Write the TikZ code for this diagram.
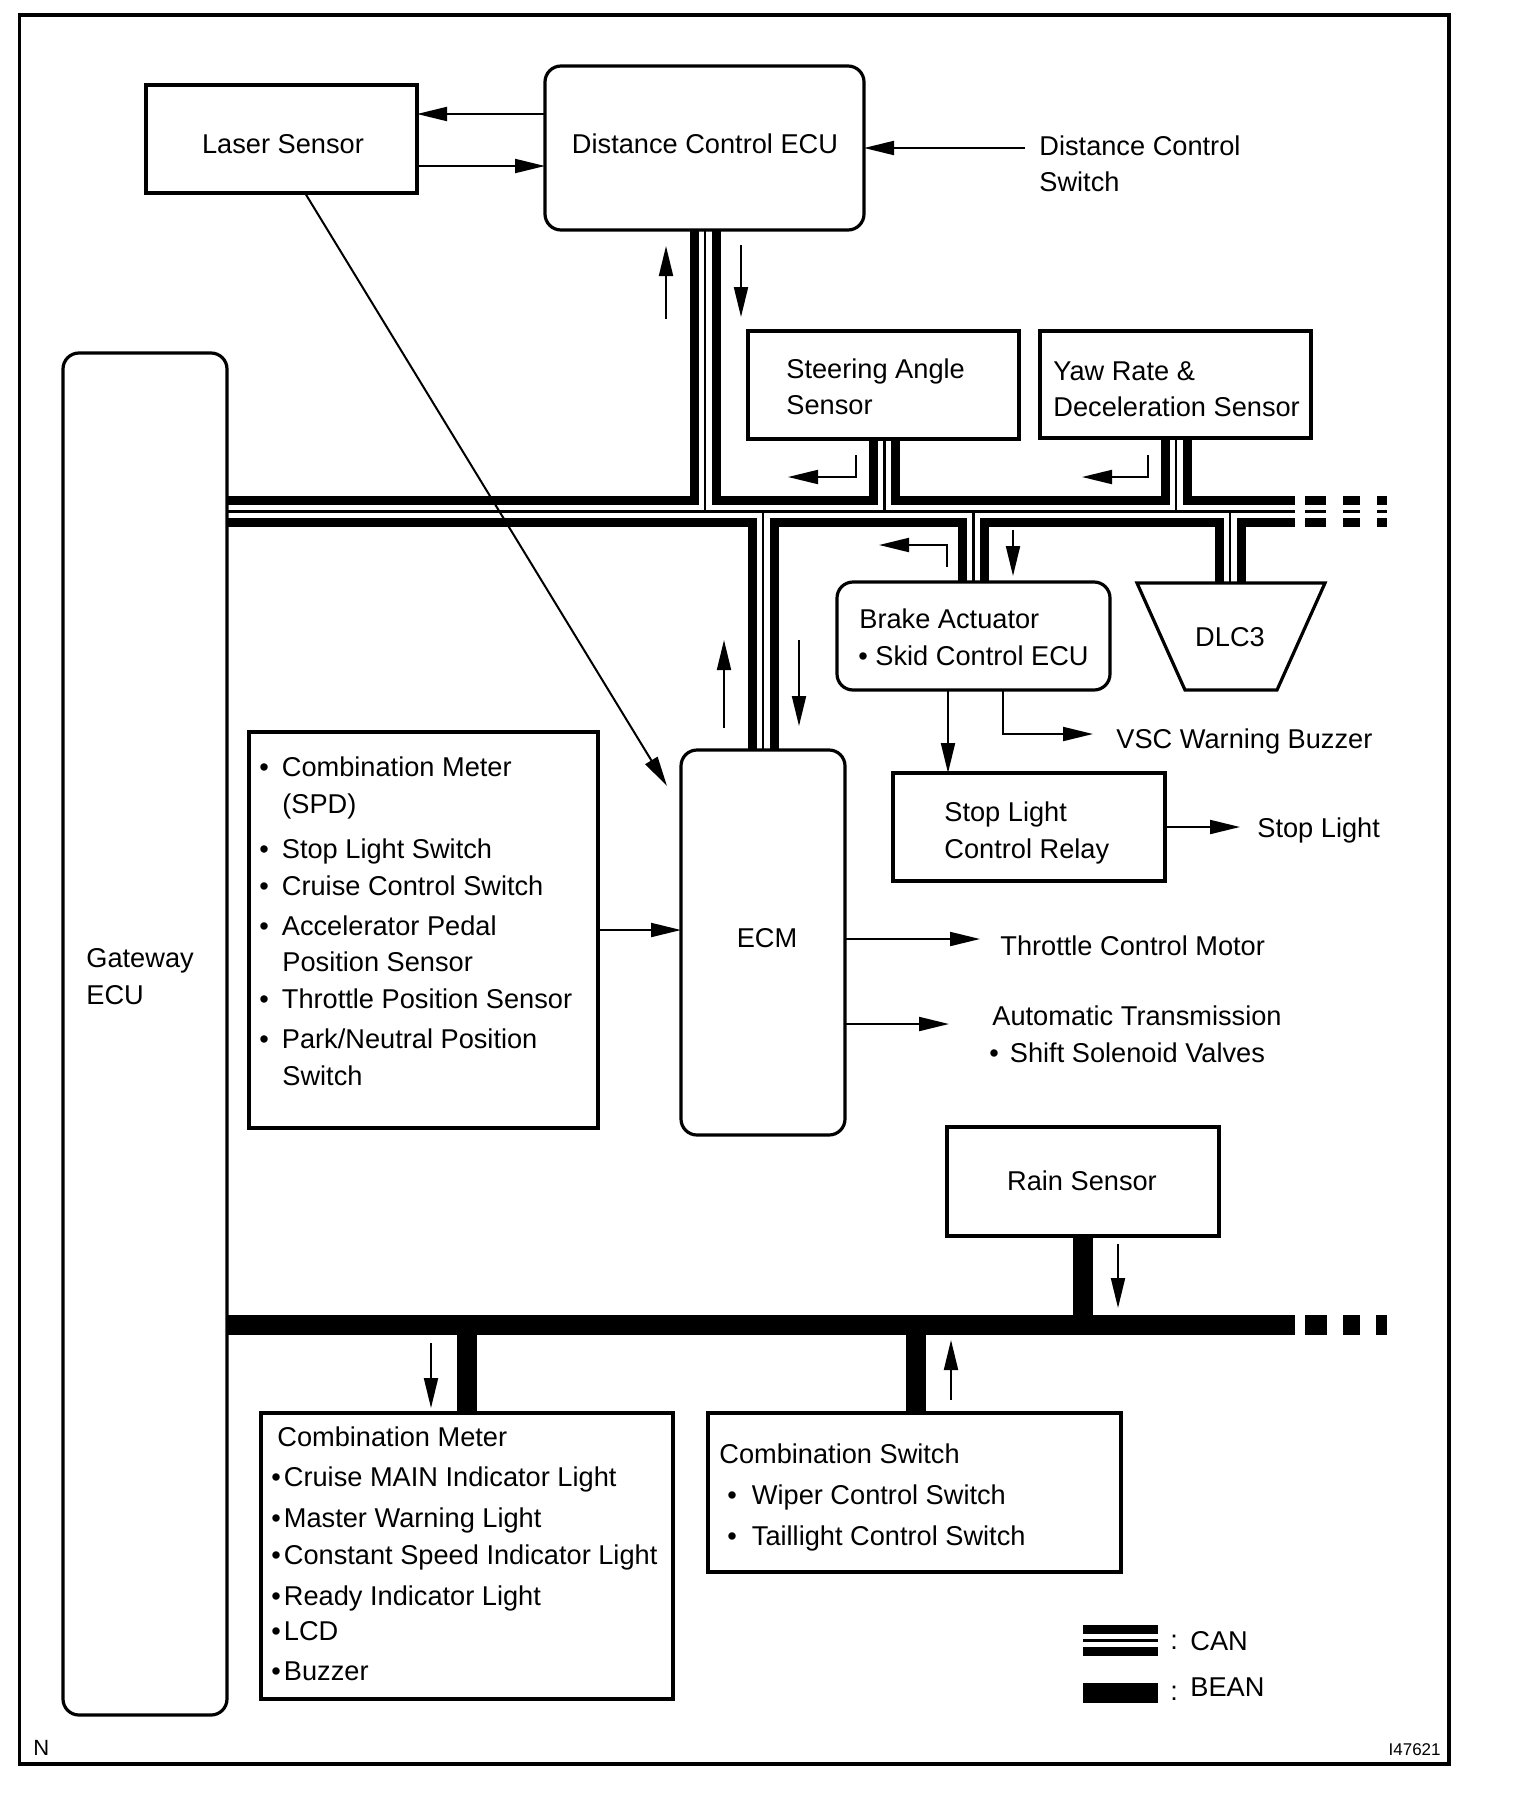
\documentclass[tikz,border=0pt]{standalone}
\usepackage{fontspec}
\setmainfont{Liberation Sans}
\usetikzlibrary{arrows.meta,fit,calc}
\pgfdeclarelayer{buslayer}
\pgfsetlayers{buslayer,main}
\begin{document}
\begin{tikzpicture}[x=0.5pt,y=-0.5pt,
  font=\fontsize{13.6}{16.5}\selectfont,
  box/.style={draw, line width=1.6pt, inner sep=0pt, outer sep=0pt},
  rbox/.style={box, rounded corners=8pt},
  txt/.style={anchor=base west, inner sep=0pt},
  ctxt/.style={anchor=base, inner sep=0pt},
  sig/.style={line width=1pt, -{Triangle[length=15pt,width=7pt]}},
  canA/.style={line width=15.5pt, black},
  canB/.style={line width=6.5pt, white},
  canC/.style={line width=1.4pt, black},
  bean/.style={line width=10pt, black},
]
% background / bounding box
\begin{pgfonlayer}{buslayer}
\fill[white] (0,0) rectangle (1520,1804);
\end{pgfonlayer}
\useasboundingbox (0,0) rectangle (1520,1804);
\node[box, fit={(19.6,15) (1449,1764)}] (frame) {};

% ---------- boxes ----------
\node[box, fit={(146,85) (417,193)}] (laser) {};
\node[rbox, fit={(545,66) (864,230)}] (dce) {};
\node[box, fit={(748,331) (1019,439)}] (sas) {};
\node[box, fit={(1040,331) (1311,438)}] (yaw) {};
\node[rbox, fit={(63,353) (227,1715)}] (gw) {};
\node[rbox, fit={(837,582) (1110,690)}] (brk) {};
\node[box, fit={(893,773) (1165,881)}] (slr) {};
\node[rbox, fit={(681,750) (845,1135)}] (ecm) {};
\node[box, fit={(249,732) (598,1128)}] (inp) {};
\node[box, fit={(947,1127) (1219,1236)}] (rain) {};
\node[box, fit={(261,1413) (673,1699)}] (cmeter) {};
\node[box, fit={(708,1413) (1121,1572)}] (cswitch) {};
\coordinate (dlctop) at (1230,583);
\draw[line width=1.6pt] (1137,583) -- (1325,583) -- (1277,690) -- (1185,690) -- cycle;

% ---------- CAN bus (outer lines, gap, centre line) ----------
\def\canpaths{
  (gw.east |- 0,511.5) -- (1295,511.5)
  (1305,511.5) -- (1326,511.5)
  (1343,511.5) -- (1360,511.5)
  (1377,511.5) -- (1387,511.5)
  (dce.south -| 705,0) -- (705,511.5)
  (sas.south -| 884.5,0) -- (884.5,511.5)
  (yaw.south -| 1176,0) -- (1176,511.5)
  (763,511.5) -- (ecm.north -| 763,0)
  (973.5,511.5) -- (brk.north -| 973.5,0)
  (1230,511.5) -- (dlctop)
}
\begin{pgfonlayer}{buslayer}
\draw[canA] \canpaths;
\draw[canB] \canpaths;
\draw[canC] \canpaths;
% ---------- BEAN bus ----------
\draw[bean] (gw.east |- 0,1325) -- (1295,1325)
  (1305,1325) -- (1327,1325)
  (1343,1325) -- (1360,1325)
  (1376,1325) -- (1387,1325)
  (rain.south -| 1083,0) -- (1083,1325)
  (467,1325) -- (cmeter.north -| 467,0)
  (915.5,1325) -- (cswitch.north -| 915.5,0);
\end{pgfonlayer}

% ---------- texts ----------
\node[ctxt] (laser-t) at (283,153) {Laser Sensor};
\node[ctxt] (dce-t) at (705,153) {Distance Control ECU};
\node[txt] (dcs-t1) at (1039,155) {Distance Control};
\node[txt] (dcs-t2) at (1039,191) {Switch};
\node[txt] (sas-t1) at (786,378) {Steering Angle};
\node[txt] (sas-t2) at (786,414) {Sensor};
\node[txt] (yaw-t1) at (1053,380) {Yaw Rate \&};
\node[txt] (yaw-t2) at (1053,416) {Deceleration Sensor};
\node[txt] (gw-t1) at (86,967) {Gateway};
\node[txt] (gw-t2) at (86,1004) {ECU};
\node[txt] (brk-t1) at (859,628) {Brake Actuator};
\node[txt] (brk-t2) at (858,665) {\textbullet\ Skid Control ECU};
\node[ctxt] (dlc-t) at (1230,646) {DLC3};
\node[txt] (vsc-t) at (1116,748) {VSC Warning Buzzer};
\node[txt] (slr-t1) at (944,821) {Stop Light};
\node[txt] (slr-t2) at (944,858) {Control Relay};
\node[txt] (sl-t) at (1257,837) {Stop Light};
\node[ctxt] (ecm-t) at (767,947) {ECM};
\node[txt] (tcm-t) at (1000,955) {Throttle Control Motor};
\node[txt] (at-t1) at (992,1025) {Automatic Transmission};
\node[txt] (at-t2) at (989,1062) {\textbullet\hspace{5.5pt}Shift Solenoid Valves};

\node[txt] (inp-t1) at (259,776) {\textbullet\hspace{6.5pt}Combination Meter};
\node[txt] (inp-t2) at (282,813) {(SPD)};
\node[txt] (inp-t3) at (259,858) {\textbullet\hspace{6.5pt}Stop Light Switch};
\node[txt] (inp-t4) at (259,895) {\textbullet\hspace{6.5pt}Cruise Control Switch};
\node[txt] (inp-t5) at (259,935) {\textbullet\hspace{6.5pt}Accelerator Pedal};
\node[txt] (inp-t6) at (282,971) {Position Sensor};
\node[txt] (inp-t7) at (259,1008) {\textbullet\hspace{6.5pt}Throttle Position Sensor};
\node[txt] (inp-t8) at (259,1048) {\textbullet\hspace{6.5pt}Park/Neutral Position};
\node[txt] (inp-t9) at (282,1085) {Switch};

\node[ctxt] (rain-t) at (1082,1190) {Rain Sensor};

\node[txt] (cm-t0) at (277,1446) {Combination Meter};
\node[txt] (cm-t1) at (271,1486) {\textbullet\hspace{1.5pt}Cruise MAIN Indicator Light};
\node[txt] (cm-t2) at (271,1527) {\textbullet\hspace{1.5pt}Master Warning Light};
\node[txt] (cm-t3) at (271,1564) {\textbullet\hspace{1.5pt}Constant Speed Indicator Light};
\node[txt] (cm-t4) at (271,1605) {\textbullet\hspace{1.5pt}Ready Indicator Light};
\node[txt] (cm-t5) at (271,1640) {\textbullet\hspace{1.5pt}LCD};
\node[txt] (cm-t6) at (271,1680) {\textbullet\hspace{1.5pt}Buzzer};

\node[txt] (cs-t0) at (719,1463) {Combination Switch};
\node[txt] (cs-t1) at (727,1504) {\textbullet\hspace{7.5pt}Wiper Control Switch};
\node[txt] (cs-t2) at (727,1545) {\textbullet\hspace{7.5pt}Taillight Control Switch};

% ---------- legend ----------
\coordinate (legcanL) at (1083,1640.5);
\coordinate (legcanR) at (1158,1640.5);
\draw[canA] (legcanL) -- (legcanR);
\draw[canB] (legcanL) -- (legcanR);
\draw[canC] (legcanL) -- (legcanR);
\coordinate (legbeanL) at (1083,1692.5);
\coordinate (legbeanR) at (1158,1692.5);
\draw[bean] (legbeanL) -- (legbeanR);
\node[txt] (leg-c1) at (1170,1649) {:};
\node[txt] (leg-can) at (1190,1650) {CAN};
\node[txt] (leg-c2) at (1170,1700) {:};
\node[txt] (leg-bean) at (1190,1696) {BEAN};

\node[txt, font=\fontsize{11}{13}\selectfont] (nmark) at (33,1755) {N};
\node[anchor=base east, inner sep=0pt, font=\fontsize{8.5}{10}\selectfont] (fig-id) at (1441,1755) {I47621};

% ---------- signal arrows ----------
\draw[sig] (dce.west |- 0,114) -- (laser.east |- 0,114);
\draw[sig] (laser.east |- 0,166) -- (dce.west |- 0,166);
\coordinate (dcs-in) at (1025,148);
\draw[sig] (dcs-in) -- (dce.east |- dcs-in);
\coordinate (lasertip) at (667,786);
\draw[sig] (laser.south -| 305,0) -- (lasertip);

\draw[sig] (666,319) -- (666,246);
\draw[sig] (741,245) -- (741,317);
\draw[sig] (856,455) -- (856,477) -- (788,477);
\draw[sig] (1148,455) -- (1148,477) -- (1082,477);
\draw[sig] (947,567) -- (947,545) -- (879,545);
\draw[sig] (1013,530) -- (1013,576);
\draw[sig] (724,728) -- (724,640);
\draw[sig] (799,640) -- (799,726);

\draw[sig] (brk.south -| 948,0) -- (slr.north -| 948,0);
\draw[sig] (brk.south -| 1003,0) -- (1003,734) -- (1093,734);
\draw[sig] (slr.east |- 0,827) -- (1240,827);
\draw[sig] (ecm.east |- 0,939) -- (980,939);
\draw[sig] (ecm.east |- 0,1024) -- (949,1024);
\draw[sig] (inp.east |- 0,930) -- (ecm.west |- 0,930);

\draw[sig] (1118,1244) -- (1118,1308);
\draw[sig] (431,1343) -- (431,1408);
\draw[sig] (951,1400) -- (951,1340);
\end{tikzpicture}
\end{document}
